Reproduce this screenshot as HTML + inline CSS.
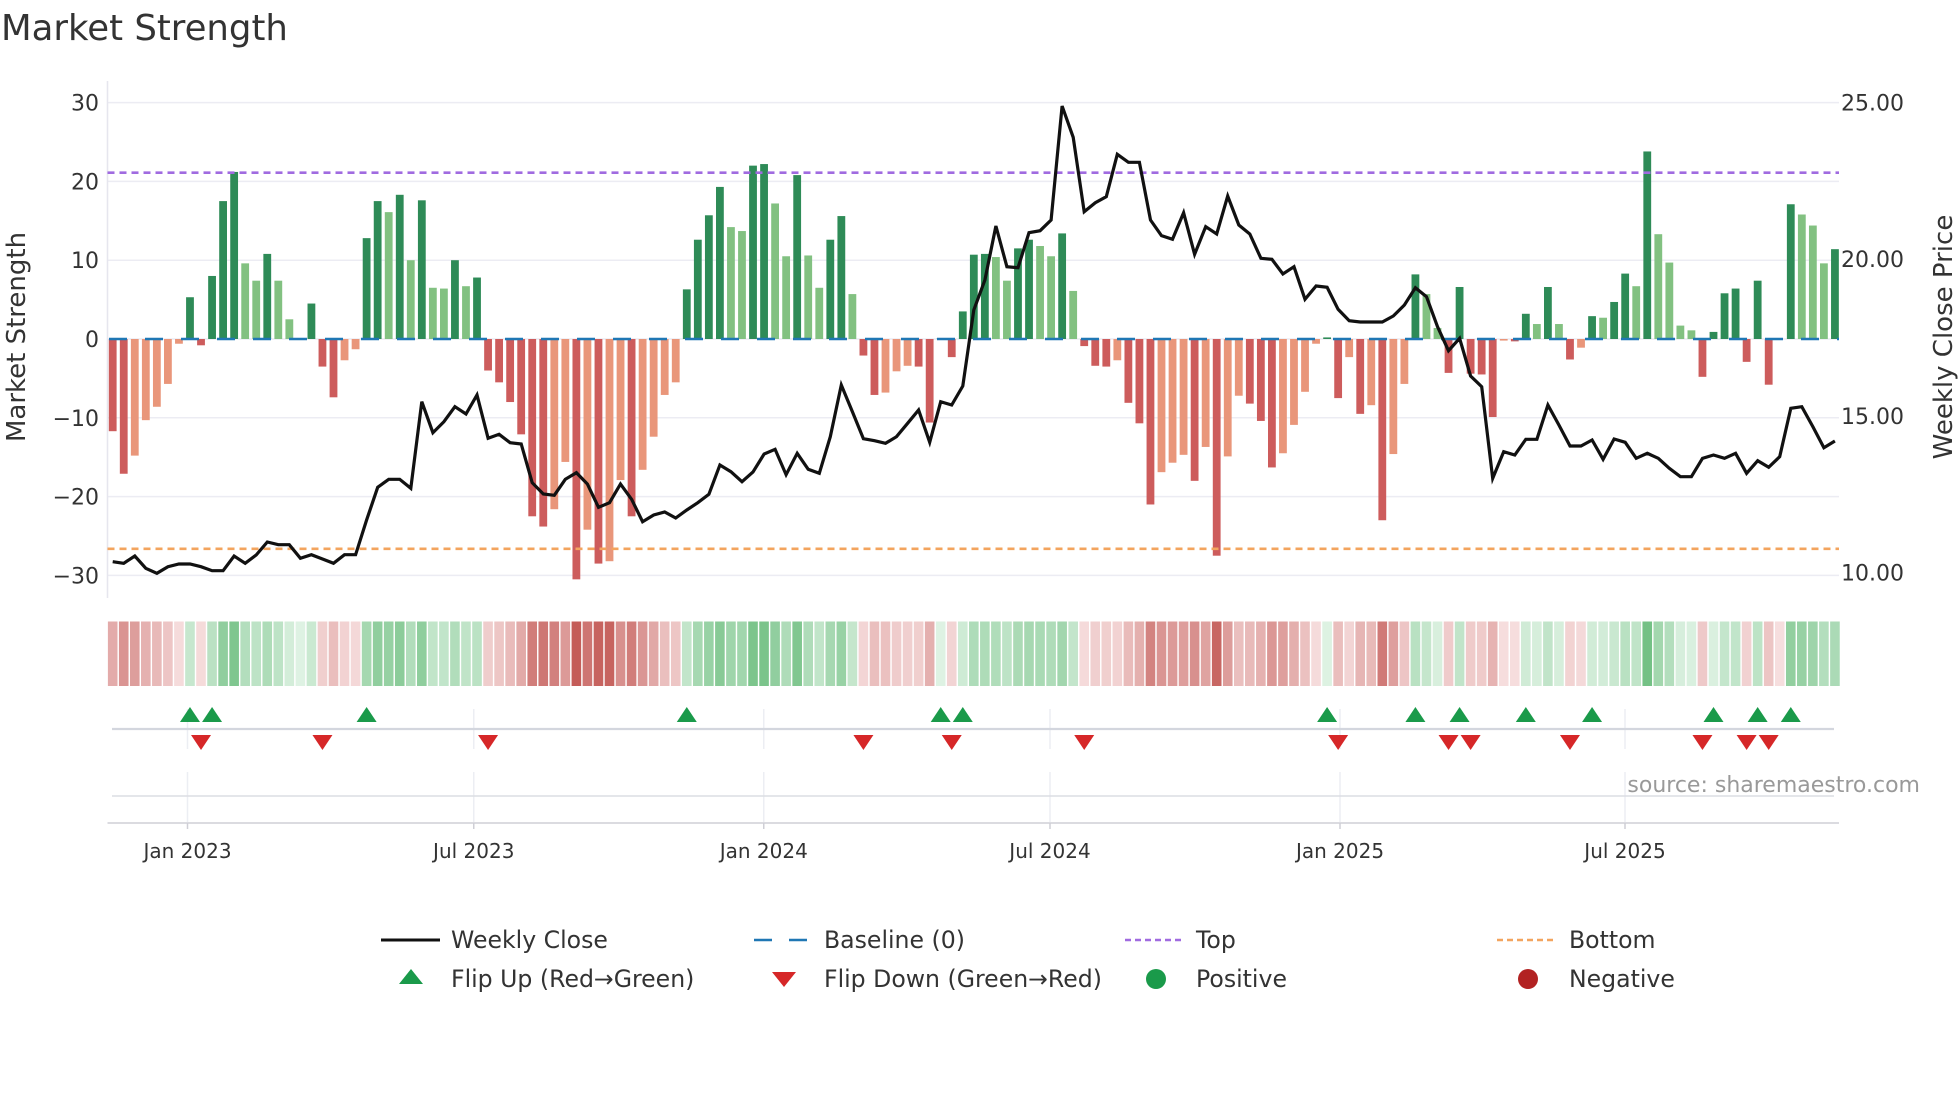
<!DOCTYPE html>
<html><head><meta charset="utf-8">
<style>
html,body{margin:0;padding:0;background:#fff;}
svg{display:block;font-family:"DejaVu Sans","Liberation Sans",sans-serif;}
</style></head>
<body>
<svg id="c" width="1960" height="1102" viewBox="0 0 1960 1102" xmlns="http://www.w3.org/2000/svg"></svg>
<script>
const V=[-11.7,-17.1,-14.8,-10.3,-8.6,-5.7,-0.6,5.3,-0.8,8,17.5,21.2,9.6,7.4,10.8,7.4,2.5,0,4.5,-3.5,-7.4,-2.7,-1.3,12.8,17.5,16.1,18.3,10,17.6,6.5,6.4,10,6.7,7.8,-4,-5.5,-8,-12.1,-22.5,-23.8,-21.6,-15.6,-30.5,-24.2,-28.5,-28.2,-17.9,-22.5,-16.6,-12.4,-7.1,-5.5,6.3,12.6,15.7,19.3,14.2,13.7,22,22.2,17.2,10.5,20.8,10.6,6.5,12.6,15.6,5.7,-2.1,-7.1,-6.8,-4.1,-3.4,-3.5,-10.6,0.1,-2.3,3.5,10.7,10.8,10.4,7.4,11.5,12.6,11.8,10.5,13.4,6.1,-0.9,-3.4,-3.5,-2.7,-8.1,-10.7,-21,-16.9,-15.7,-14.7,-18,-13.7,-27.5,-14.9,-7.2,-8.2,-10.4,-16.3,-14.5,-10.9,-6.7,-0.6,0.2,-7.5,-2.3,-9.5,-8.4,-23,-14.6,-5.7,8.2,5.7,1.4,-4.3,6.6,-4.4,-4.5,-9.9,-0.2,-0.3,3.2,1.9,6.6,1.9,-2.6,-1.1,2.9,2.7,4.7,8.3,6.7,23.8,13.3,9.7,1.7,1.1,-4.8,0.9,5.8,6.4,-2.9,7.4,-5.8,0,17.1,15.8,14.4,9.6,11.4];
const P=[561.7,563.3,556,568.3,573.3,566.7,564,564,566.7,570.7,570.7,556,563.3,555,542,544.7,544.7,558.3,554.7,559,563.3,554.7,554.7,520,487.3,479.3,479.3,488.3,401.7,432.7,421.7,406.7,414,395,438.3,434.3,442.7,444,482.7,494,495.3,479.3,472.7,484,507.3,502.7,484,499.3,521.7,515,512,518,510,502.7,494.3,465,471.7,481.7,472,454,449.3,474.7,453.3,469.3,473.3,436.7,385,411.7,438.7,440.7,443.3,436.7,423.3,410,442.3,401.7,405,386,310,280,226,266.7,267.7,232.7,230.7,220,106,137.3,211.7,202.7,196.7,154.3,162.3,162.3,220,235.7,239.3,212.7,254.3,226.7,234,196,225,234,258.3,259.3,274,266.7,299.3,286,287.3,309.3,320.7,322,322,322,316,305,287.7,296.7,326.7,350.7,338.3,376,386.7,478.3,451.7,455,439.3,439.3,405,425,446,446,440,459.3,439,442.3,458.3,453.3,458.3,468.3,476.7,476.7,458.3,455,458.3,453.3,473.3,460.7,467.3,456.7,408.3,406.7,426.7,447.7,441];
const X=i=>112.7+11.04*i, Y=v=>339-7.88*v;
let s='';
const L=107.5,R=1839;
for(let v=-30;v<=30;v+=10){const y=Y(v);s+=`<line x1="${L}" x2="${R}" y1="${y}" y2="${y}" stroke="#ececf3" stroke-width="1.5"/>`;
 s+=`<text x="99" y="${y+8}" font-size="22" text-anchor="end" fill="#333">${v<0?'\u2212'+(-v):v}</text>`;}
s+=`<line x1="${L}" x2="${L}" y1="81" y2="598" stroke="#e6e6ee" stroke-width="1.5"/>`;
[[25,102.5],[20,259],[15,416],[10,572.5]].forEach(([p,y])=>{s+=`<text x="1841" y="${y+8}" font-size="22" fill="#333">${p}.00</text>`;});
let sign=[];
for(let i=0;i<V.length;i++){const v=V[i];let sg=v>0?1:v<0?-1:(i?sign[i-1]:1);sign.push(sg);
 const newSign=i==0||sg!==sign[i-1];const dark=newSign||Math.abs(v)>Math.abs(V[i-1]);
 let col=sg>0?(dark?'#2e8b57':'#82c181'):(dark?'#cd5c5c':'#e9967a');
 if(v!==0){const y0=Y(0),y1=Y(v);s+=`<rect x="${X(i)-3.9}" y="${Math.min(y0,y1)}" width="7.8" height="${Math.abs(y1-y0)}" fill="${col}"/>`;}
}
s+=`<line x1="109" x2="${R}" y1="339" y2="339" stroke="#1f77b4" stroke-width="2.6" stroke-dasharray="18 18"/>`;
s+=`<line x1="${L}" x2="${R}" y1="172.7" y2="172.7" stroke="#a06be0" stroke-width="2.6" stroke-dasharray="7 5"/>`;
s+=`<line x1="${L}" x2="${R}" y1="548.8" y2="548.8" stroke="#f3a45e" stroke-width="2.6" stroke-dasharray="7 5"/>`;
s+=`<polyline fill="none" stroke="#111" stroke-width="3.2" stroke-linejoin="miter" points="${P.map((y,i)=>X(i).toFixed(1)+','+y).join(' ')}"/>`;
function mix(a,b,t){return 'rgb('+a.map((c,k)=>Math.round(c+(b[k]-c)*t)).join(',')+')';}
for(let i=0;i<V.length;i++){const v=V[i];const t=Math.min(Math.abs(v)/30,1);
 const c=sign[i]>0?mix([222,242,227],[88,180,108],t):mix([246,222,222],[196,92,88],t);
 s+=`<rect x="${X(i)-4.8}" y="621.5" width="9.6" height="64.5" fill="${c}"/>`;}
const ticks=[187.5,473.75,763.75,1050,1340,1625],labs=['Jan 2023','Jul 2023','Jan 2024','Jul 2024','Jan 2025','Jul 2025'];
ticks.forEach(t=>{s+=`<line x1="${t}" x2="${t}" y1="709" y2="749" stroke="#eceef3" stroke-width="1.5"/><line x1="${t}" x2="${t}" y1="772" y2="822" stroke="#eceef3" stroke-width="1.5"/>`;});
s+=`<line x1="112" x2="1834" y1="729" y2="729" stroke="#d3d6de" stroke-width="2.2"/>`;
s+=`<line x1="112" x2="1834" y1="796" y2="796" stroke="#dcdde3" stroke-width="1.5"/>`;
s+=`<line x1="${L}" x2="${R}" y1="823" y2="823" stroke="#cfcfd6" stroke-width="1.5"/>`;
for(let i=1;i<V.length;i++){if(sign[i]!==sign[i-1]){const x=X(i);
 if(sign[i]>0)s+=`<polygon points="${x-10},722 ${x+10},722 ${x},707" fill="#1a9a4a"/>`;
 else s+=`<polygon points="${x-10},735 ${x+10},735 ${x},750" fill="#d62728"/>`;}}
ticks.forEach((t,k)=>{s+=`<line x1="${t}" x2="${t}" y1="823" y2="829" stroke="#cfcfd6" stroke-width="1.5"/><text x="${t}" y="858" font-size="20" text-anchor="middle" fill="#333">${labs[k]}</text>`;});
s+=`<text x="1920" y="792" font-size="22" text-anchor="end" fill="#999">source: sharemaestro.com</text>`;
s+=`<text x="1" y="40" font-size="35.5" fill="#333">Market Strength</text>`;
s+=`<text transform="translate(25,337) rotate(-90)" font-size="26" text-anchor="middle" fill="#333">Market Strength</text>`;
s+=`<text transform="translate(1952,337) rotate(-90)" font-size="26" text-anchor="middle" fill="#333">Weekly Close Price</text>`;
const r1=940,r2=979,fs=23.6;
s+=`<line x1="381" x2="440" y1="${r1}" y2="${r1}" stroke="#111" stroke-width="3"/><text x="451" y="${r1+8}" font-size="${fs}" fill="#333">Weekly Close</text>`;
s+=`<line x1="754" x2="807" y1="${r1}" y2="${r1}" stroke="#1f77b4" stroke-width="2.6" stroke-dasharray="18 17"/><text x="824" y="${r1+8}" font-size="${fs}" fill="#333">Baseline (0)</text>`;
s+=`<line x1="1125" x2="1181" y1="${r1}" y2="${r1}" stroke="#a06be0" stroke-width="2.6" stroke-dasharray="6 4"/><text x="1196" y="${r1+8}" font-size="${fs}" fill="#333">Top</text>`;
s+=`<line x1="1497" x2="1554" y1="${r1}" y2="${r1}" stroke="#f3a45e" stroke-width="2.6" stroke-dasharray="6 4"/><text x="1569" y="${r1+8}" font-size="${fs}" fill="#333">Bottom</text>`;
s+=`<polygon points="399,984 423,984 411,969" fill="#1a9a4a"/><text x="451" y="${r2+8}" font-size="${fs}" fill="#333">Flip Up (Red→Green)</text>`;
s+=`<polygon points="772,972 796,972 784,987" fill="#d62728"/><text x="824" y="${r2+8}" font-size="${fs}" fill="#333">Flip Down (Green→Red)</text>`;
s+=`<circle cx="1156" cy="${r2}" r="10" fill="#1a9a4a"/><text x="1196" y="${r2+8}" font-size="${fs}" fill="#333">Positive</text>`;
s+=`<circle cx="1528" cy="${r2}" r="10" fill="#b22222"/><text x="1569" y="${r2+8}" font-size="${fs}" fill="#333">Negative</text>`;
document.getElementById('c').innerHTML=s;
</script>
</body></html>
